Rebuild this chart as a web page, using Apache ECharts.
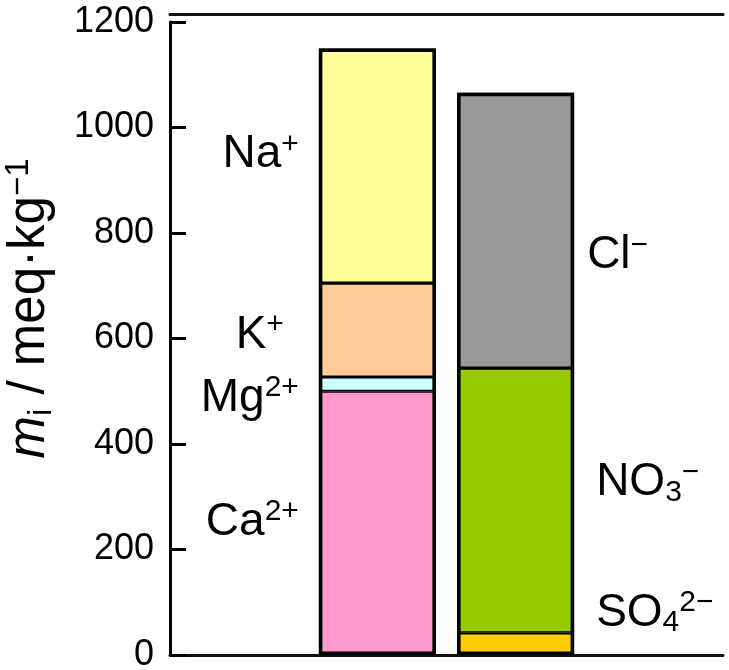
<!DOCTYPE html>
<html>
<head>
<meta charset="utf-8">
<script src="https://cdn.jsdelivr.net/npm/echarts@6/dist/echarts.min.js"></script>
<style>
  html, body { margin: 0; padding: 0; background: #fff; }
  #chart { width: 729px; height: 670px; }
</style>
</head>
<body>
<div id="chart"></div>
<script>
// two real columns, padded with empty slots so the bars sit where they should
const categories = [' ', 'Cations', 'Anions', '  '];

// stacked bottom -> top
const cationNames = ['Ca2+', 'Mg2+', 'K+', 'Na+'];
const cationValues = [500, 27, 178, 445];
const anionNames = ['SO42-', 'NO3-', 'Cl-'];
const anionValues = [42, 502, 522];

const yTicks = [0, 200, 400, 600, 800, 1000, 1200];

const colors = {
  'Ca2+': '#FF99CC', 'Mg2+': '#CCFFFF', 'K+': '#FFCC99', 'Na+': '#FFFF99',
  'SO42-': '#FFCC00', 'NO3-': '#99CC00', 'Cl-': '#999999'
};

// rich text for chemical formulas
const labelText = {
  'Ca2+': '{b|Ca}{sup|2+}',
  'Mg2+': '{b|Mg}{sup|2+}',
  'K+': '{b|K}{sup|+}',
  'Na+': '{b|Na}{sup|+}',
  'SO42-': '{b|SO}{sub|4}{sup|2−}',
  'NO3-': '{b|NO}{sub|3}{sup|−}',
  'Cl-': '{b|Cl}{sup|−}'
};
// label nudges [dx, dy] from the default left/right placement
const labelNudge = {
  'Ca2+': [0, -1], 'Mg2+': [0, 14], 'K+': [-15, 5], 'Na+': [0, -11],
  'SO42-': [0, -31], 'NO3-': [0, -18], 'Cl-': [-9, 25]
};

const FONT = "'Liberation Sans', Arial, Helvetica, sans-serif";
const rich = {
  b: { fontSize: 46, lineHeight: 50, color: '#000', fontFamily: FONT },
  sup: { fontSize: 30, lineHeight: 30, color: '#000', fontFamily: FONT, verticalAlign: 'top' },
  sub: { fontSize: 30, lineHeight: 30, color: '#000', fontFamily: FONT, verticalAlign: 'bottom' }
};

const BAR_W = 117;

// segments get a half-width border so shared edges come out as one line
function makeSeries(name, value, colIndex, side) {
  const data = categories.map((c, i) => (i === colIndex ? value : null));
  return {
    name,
    type: 'bar',
    stack: 'ions',
    data,
    barWidth: BAR_W,
    barGap: '-100%',
    itemStyle: { color: colors[name], borderColor: '#000', borderWidth: 1.6 },
    label: {
      show: true,
      position: side,
      distance: side === 'left' ? 20 : 22,
      offset: labelNudge[name],
      formatter: labelText[name],
      rich
    },
    emphasis: { disabled: true }
  };
}

const sum = a => a.reduce((s, v) => s + v, 0);

const series = [
  ...cationNames.map((n, i) => makeSeries(n, cationValues[i], 1, 'left')),
  ...anionNames.map((n, i) => makeSeries(n, anionValues[i], 2, 'right')),
  {
    // outline drawn over each whole column
    name: 'outline',
    type: 'bar',
    data: [null, sum(cationValues), sum(anionValues), null],
    barWidth: BAR_W,
    barGap: '-100%',
    z: 5,
    silent: true,
    itemStyle: { color: 'transparent', borderColor: '#000', borderWidth: 3.5 },
    emphasis: { disabled: true }
  }
];

const chart = echarts.init(document.getElementById('chart'), null, { renderer: 'canvas' });
chart.setOption({
  animation: false,
  backgroundColor: '#fff',
  textStyle: { fontFamily: FONT },
  grid: { left: 170, right: 6, top: 22, bottom: 15, containLabel: false, outerBoundsMode: 'none' },
  xAxis: [
    {
      type: 'category',
      data: categories,
      axisLine: { lineStyle: { color: '#111', width: 3 } },
      axisTick: { show: false },
      axisLabel: { show: false },
      splitLine: { show: false }
    },
    {
      // frame line above the plot
      type: 'category',
      position: 'top',
      offset: 8,
      data: categories,
      axisLine: { lineStyle: { color: '#111', width: 3 } },
      axisTick: { show: false },
      axisLabel: { show: false },
      splitLine: { show: false }
    }
  ],
  yAxis: {
    type: 'value',
    min: 0,
    max: 1200,
    interval: 200,
    name: '{it|m}{sub|i}{n| / meq·kg}{sup|−1}',
    nameLocation: 'middle',
    nameGap: 112,
    nameRotate: 90,
    nameTextStyle: {
      padding: [0, 0, 0, 60],
      rich: {
        it: { fontSize: 51, lineHeight: 56, fontStyle: 'italic', color: '#000', fontFamily: FONT },
        n: { fontSize: 51, lineHeight: 56, color: '#000', fontFamily: FONT },
        sub: { fontSize: 33, lineHeight: 33, color: '#000', fontFamily: FONT, verticalAlign: 'bottom' },
        sup: { fontSize: 33, lineHeight: 33, color: '#000', fontFamily: FONT, verticalAlign: 'top' }
      }
    },
    axisLine: { show: true, lineStyle: { color: '#000', width: 3 } },
    axisTick: { show: true, inside: true, length: 16, lineStyle: { color: '#000', width: 3 } },
    axisLabel: {
      margin: 16,
      fontSize: 36,
      color: '#000',
      fontFamily: FONT,
      formatter: v => (yTicks.includes(v) ? String(v) : '')
    },
    splitLine: { show: false }
  },
  series
});
</script>
</body>
</html>
